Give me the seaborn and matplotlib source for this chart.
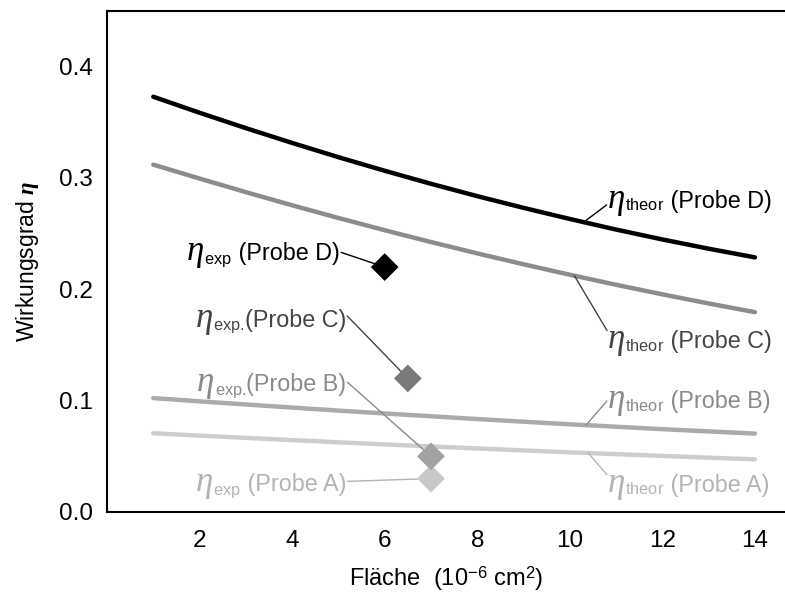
import numpy as np
import pandas as pd
import matplotlib
matplotlib.use("Agg")
import matplotlib.pyplot as plt
from matplotlib.offsetbox import TextArea, HPacker, AnnotationBbox
import seaborn as sns

# ---- data ----
area = [1, 2, 3, 4, 5, 6, 7, 8, 9, 10, 11, 12, 13, 14]
theor_D = [0.373, 0.3586, 0.3448, 0.3315, 0.3187, 0.3065, 0.2948,
           0.2837, 0.2732, 0.2632, 0.2537, 0.2448, 0.2365, 0.2287]
theor_C = [0.312, 0.2995, 0.2873, 0.2755, 0.2641, 0.2531, 0.2425,
           0.2323, 0.2225, 0.2131, 0.2041, 0.1955, 0.1873, 0.1795]
theor_B = [0.1023, 0.0994, 0.0966, 0.0938, 0.0911, 0.0885, 0.0860,
           0.0835, 0.0811, 0.0788, 0.0766, 0.0744, 0.0724, 0.0704]
theor_A = [0.0707, 0.0686, 0.0666, 0.0646, 0.0626, 0.0607, 0.0589,
           0.0571, 0.0553, 0.0536, 0.0520, 0.0504, 0.0488, 0.0473]

probes = ["A", "B", "C", "D"]
exp_area = [7.0, 7.0, 6.5, 6.0]
exp_eta = [0.03, 0.05, 0.12, 0.22]

xticks = [2, 4, 6, 8, 10, 12, 14]
yticks = [0.0, 0.1, 0.2, 0.3, 0.4]

curve_col = {"A": "#cdcdcd", "B": "#aaaaaa", "C": "#8c8c8c", "D": "#000000"}
marker_col = {"A": "#c8c8c8", "B": "#a2a2a2", "C": "#7a7a7a", "D": "#000000"}
text_col = {"A": "#b4b4b4", "B": "#8a8a8a", "C": "#444444", "D": "#000000"}

sns.set_theme(style="white")
plt.rcParams["font.family"] = ["Liberation Sans", "DejaVu Sans"]
plt.rcParams["mathtext.fontset"] = "custom"
plt.rcParams["mathtext.rm"] = "Liberation Sans"
plt.rcParams["mathtext.it"] = "Liberation Serif:italic"
plt.rcParams["mathtext.bf"] = "Liberation Sans:bold"
plt.rcParams["mathtext.bfit"] = "Liberation Serif:italic:bold"

theor = {"A": theor_A, "B": theor_B, "C": theor_C, "D": theor_D}
df_theor = pd.concat(
    [pd.DataFrame({"area": area, "eta": theor[p], "probe": p}) for p in probes],
    ignore_index=True,
)
df_exp = pd.DataFrame({"area": exp_area, "eta": exp_eta, "probe": probes})

fig = plt.figure(figsize=(7.85, 5.92), dpi=100)
ax = fig.add_axes([107 / 785, 80 / 592, 678 / 785, 501 / 592])

sns.lineplot(data=df_theor, x="area", y="eta", hue="probe", palette=curve_col,
             linewidth=3.2, legend=False, ax=ax, zorder=2)

FS = 16.8


def label_box(sub, rest, color):
    eta = TextArea("\u03b7", textprops=dict(fontsize=FS * 1.5, fontstyle="italic",
                                              family=["Liberation Serif"], color=color))
    subt = TextArea(r"${}_{\mathrm{%s}}$" % sub, textprops=dict(fontsize=FS * 1.0, color=color))
    restt = TextArea(rest, textprops=dict(fontsize=FS, color=color))
    return HPacker(children=[eta, subt, restt], align="baseline", pad=0, sep=0)


def add_label(box, xy, xybox, align, relpos, color, shrinkB=0):
    ab = AnnotationBbox(box, xy, xybox=xybox, xycoords="data", boxcoords="data",
                        box_alignment=align, frameon=False, pad=0,
                        arrowprops=dict(arrowstyle="-", color=color, lw=1.0,
                                        shrinkA=1, shrinkB=shrinkB, relpos=relpos,
                                        patchA=None))
    ab.set_zorder(3)
    ax.add_artist(ab)


# theoretical labels (right side): curve x, box x, box y, relpos y
theor_lab = {
    "D": (10.3, 10.82, 0.281, 0.35),
    "C": (10.1, 10.82, 0.1545, 0.75),
    "B": (10.35, 10.82, 0.1006, 0.5),
    "A": (10.4, 10.82, 0.026, 0.72),
}
for p, (xc, xt, yt, rp) in theor_lab.items():
    yc = float(np.interp(xc, area, theor[p]))
    add_label(label_box("theor", " (Probe %s)" % p, text_col[p]), (xc, yc), (xt, yt),
              (0, 0.5), (0, rp), text_col[p])

exp_lab = {
    "D": ("exp", " (Probe D)", 5.03, 0.2336, 0.5),
    "C": ("exp.", "(Probe C)", 5.17, 0.174, 0.6),
    "B": ("exp.", "(Probe B)", 5.17, 0.116, 0.55),
    "A": ("exp", " (Probe A)", 5.17, 0.026, 0.55),
}
for i, p in enumerate(probes):
    sub, rest, xt, yt, rp = exp_lab[p]
    add_label(label_box(sub, rest, text_col[p]), (exp_area[i], exp_eta[i]), (xt, yt),
              (1, 0.5), (1, rp), text_col[p])

sns.scatterplot(data=df_exp, x="area", y="eta", hue="probe", palette=marker_col,
                marker="D", s=200, edgecolor="none", legend=False, ax=ax, zorder=5)

ax.set_xlim(0, 14.65)
ax.set_ylim(0, 0.45)
ax.set_xticks(xticks)
ax.set_xticklabels([str(t) for t in xticks])
ax.set_yticks(yticks)
ax.set_yticklabels(["%.1f" % t for t in yticks])
ax.tick_params(axis="both", direction="in", length=10, width=1.2, color="black",
               labelsize=17.5, labelcolor="black")
ax.tick_params(axis="y", pad=10)
ax.tick_params(axis="x", pad=13)
for s in ["left", "bottom", "top"]:
    ax.spines[s].set_visible(True)
    ax.spines[s].set_color("black")
    ax.spines[s].set_linewidth(1.5)
ax.spines["right"].set_visible(False)

ax.set_xlabel(r"Fläche  (10$^{\mathrm{-6}}$ cm$^{\mathrm{2}}$)", fontsize=17, color="black", labelpad=9)
ax.set_ylabel(r"Wirkungsgrad $\boldsymbol{\eta}$", fontsize=16.5, color="black", labelpad=13)

fig.savefig("out.png", dpi=100)
